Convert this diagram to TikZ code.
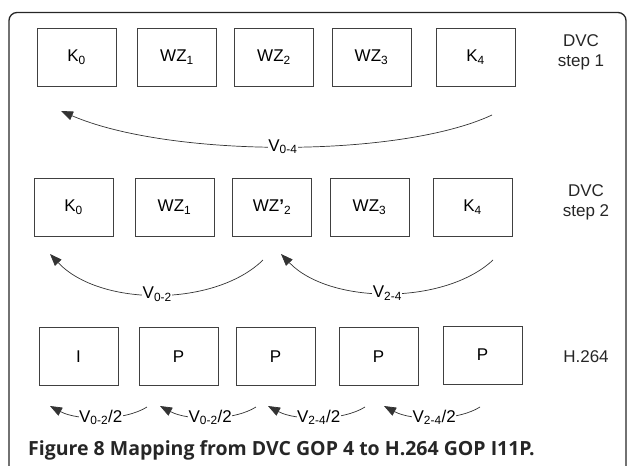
\documentclass[tikz,border=0pt]{standalone}
\usepackage{fontspec}
\setmainfont{Liberation Sans}
\newfontfamily\capfont{Open Sans}
\usetikzlibrary{arrows.meta}

\def\framebox{(9,12.5) rectangle (626,480)}
\def\pagebox{(0,0) rectangle (627,466)}

\tikzset{
  frame/.style={draw=black!85, line width=1.3pt, rounded corners=8pt},
  gopbox/.style={draw=black!75, line width=0.8pt, minimum width=79pt, minimum height=58pt,
    inner sep=0pt, font=\fontsize{17}{18}\selectfont},
  rowlabel/.style={align=center, font=\fontsize{17}{20}\selectfont, text=black!85},
  mvarrow/.style={draw=black!80, line width=0.7pt, -{Triangle[length=12pt,width=9pt]}},
  mvlabel/.style={fill=white, inner sep=0.5pt, font=\fontsize{17}{18}\selectfont}
}

\begin{document}
\begin{tikzpicture}[x=1pt, y=-1pt]
  \useasboundingbox \pagebox;
  \clip \pagebox;
  \draw[frame] \framebox;

  % DVC step 1
  \node[gopbox] (ka) at (76.5,57) {K\textsubscript{0}};
  \node[gopbox] (wa1) at (177,57) {WZ\textsubscript{1}};
  \node[gopbox] (wa2) at (274,57) {WZ\textsubscript{2}};
  \node[gopbox] (wa3) at (371.5,57) {WZ\textsubscript{3}};
  \node[gopbox] (kb) at (475.5,57) {K\textsubscript{4}};
  \node[rowlabel] (stepa) at (581,52) {DVC\\step 1};

  \coordinate (va) at (492,115);
  \coordinate (vb) at (61,111);
  \draw[mvarrow] (va) .. controls (400,158) and (170,158) .. node[mvlabel] (v04) {V\textsubscript{0-4}} (vb);

  % DVC step 2
  \node[gopbox] (kc) at (73.5,207) {K\textsubscript{0}};
  \node[gopbox] (wc1) at (174.5,207) {WZ\textsubscript{1}};
  \node[gopbox] (wc2) at (272,207) {WZ\textbf{'}\textsubscript{2}};
  \node[gopbox] (wc3) at (369.5,207) {WZ\textsubscript{3}};
  \node[gopbox] (kd) at (472.5,207) {K\textsubscript{4}};
  \node[rowlabel] (stepb) at (586,202) {DVC\\step 2};

  \coordinate (vc) at (263,260);
  \coordinate (vd) at (50,254);
  \coordinate (ve) at (493,260);
  \coordinate (vf) at (281,254);
  \draw[mvarrow] (vc) .. controls (215,307) and (100,307) .. node[mvlabel] (v02) {V\textsubscript{0-2}} (vd);
  \draw[mvarrow] (ve) .. controls (445,305) and (330,305) .. node[mvlabel] (v24) {V\textsubscript{2-4}} (vf);

  % H.264
  \node[gopbox] (fi) at (78.5,356.5) {I};
  \node[gopbox] (fp1) at (178.5,356.5) {P};
  \node[gopbox] (fp2) at (275.5,356.5) {P};
  \node[gopbox] (fp3) at (378.5,356.5) {P};
  \node[gopbox] (fp4) at (482.5,355) {P};
  \node[rowlabel] (avc) at (586,357) {H.264};

  \foreach \s/\t/\m in {147/50/{0-2}, 256/160/{0-2}, 365/268/{2-4}, 480/384/{2-4}} {
    \coordinate (hs) at (\s,407);
    \coordinate (ht) at (\t,406);
    \draw[mvarrow] (hs) .. controls (\s-22,421) and (\t+28,421) .. node[mvlabel] {V\textsubscript{\m}/2} (ht);
  }

  \node[anchor=base west, inner sep=0pt, font=\capfont\bfseries\fontsize{19.5}{22}\selectfont, text=black!85] (caption) at (28,455)
    {Figure 8 Mapping from DVC GOP 4 to H.264 GOP I11P.};
\end{tikzpicture}
\end{document}
